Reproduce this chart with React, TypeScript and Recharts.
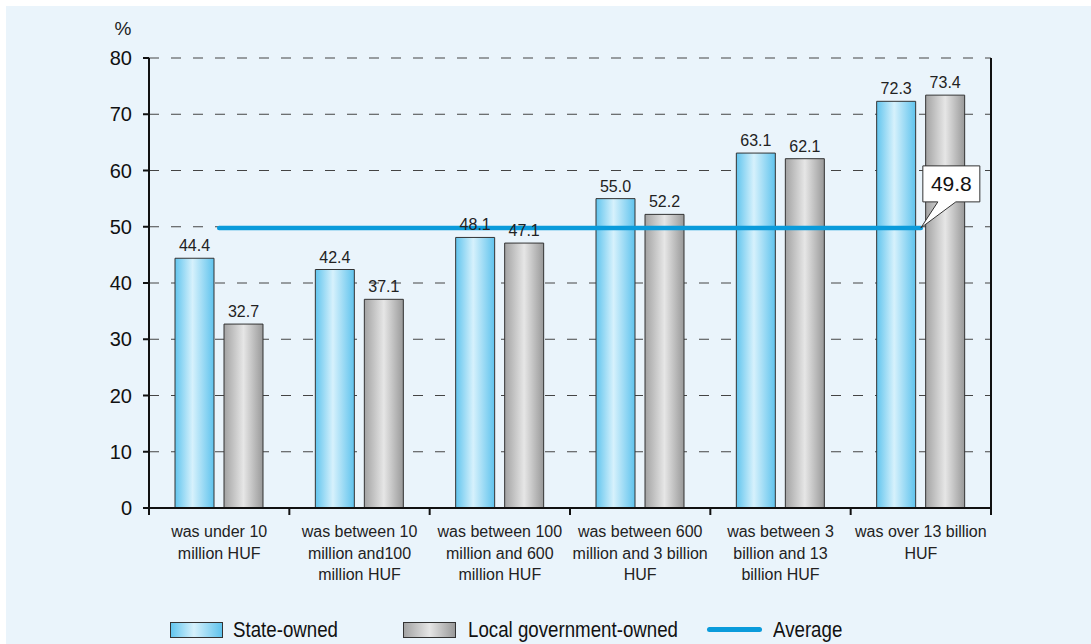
import React from "react";
import {
  BarChart,
  Bar,
  Line,
  XAxis,
  YAxis,
  CartesianGrid,
  LabelList,
} from "recharts";

// Share of companies by annual net revenue band, %
const categories = [
  "was under 10\nmillion HUF",
  "was between 10\nmillion and100\nmillion HUF",
  "was between 100\nmillion and 600\nmillion HUF",
  "was between 600\nmillion and 3 billion\nHUF",
  "was between 3\nbillion and 13\nbillion HUF",
  "was over 13 billion\nHUF",
];
const stateOwned = [44.4, 42.4, 48.1, 55.0, 63.1, 72.3];
const localGovOwned = [32.7, 37.1, 47.1, 52.2, 62.1, 73.4];
const average = 49.8;
const yTicks = [0, 10, 20, 30, 40, 50, 60, 70, 80];

const data = categories.map((name, i) => ({
  name,
  state: stateOwned[i],
  local: localGovOwned[i],
  avg: average,
}));

const CHART_W = 1085;
const CHART_H = 638;
const LEFT_W = 143;
const RIGHT_W = 100;
const BAND = (CHART_W - LEFT_W - RIGHT_W) / categories.length;

const FONT = "'Liberation Sans', Arial, Helvetica, sans-serif";
const AVG_COLOR = "#0a9bdb";
const BLUE_GRAD = "linear-gradient(to right, #62c5ee 0%, #d6f1fc 45%, #5fc3ed 100%)";
const GRAY_GRAD = "linear-gradient(to right, #a3a3a3 0%, #e6e6e6 50%, #999 100%)";

// category label under the axis, with boundary tick marks between bands
const CategoryTick = (props: any) => {
  const { x, y, payload, index } = props;
  const lines = String(payload.value).split("\n");
  const left = x - BAND / 2;
  const right = x + BAND / 2;
  return (
    <g>
      <line x1={left} x2={left} y1={y} y2={y + 7} stroke="#111" strokeWidth={2} />
      {index === categories.length - 1 && (
        <line x1={right} x2={right} y1={y} y2={y + 7} stroke="#111" strokeWidth={2} />
      )}
      <text textAnchor="middle" fontFamily={FONT} fontSize={16} fill="#222">
        {lines.map((l, i) => (
          <tspan key={i} x={x} y={y + 29 + i * 21.5}>
            {l}
          </tspan>
        ))}
      </text>
    </g>
  );
};

const UnitLabel = (props: any) => {
  const vb = props.viewBox || {};
  return (
    <text
      x={vb.x + vb.width - 26}
      y={vb.y - 23}
      textAnchor="middle"
      fontFamily={FONT}
      fontSize={19}
      fill="#222"
    >
      %
    </text>
  );
};

// callout box pointing at the end of the average line
const AverageCallout = (props: any) => {
  const { x, y, index } = props;
  if (index !== categories.length - 1) return null;
  const d = `M${x},${y} L${x + 17},${y - 26} L${x + 2},${y - 26} L${x + 2},${y - 62} L${x + 59},${y - 62} L${x + 59},${y - 26} L${x + 35},${y - 26} Z`;
  return (
    <g>
      <path d={d} fill="#fff" stroke="#333" strokeWidth={1} />
      <text
        x={x + 30.5}
        y={y - 36.5}
        textAnchor="middle"
        fontFamily={FONT}
        fontSize={21}
        fill="#111"
      >
        {average.toFixed(1)}
      </text>
    </g>
  );
};

const valueLabel = {
  position: "top" as const,
  offset: 7,
  fontFamily: FONT,
  fontSize: 16,
  fill: "#222",
  formatter: (v: any) => Number(v).toFixed(1),
};

// narrow legend type: regular sans squeezed horizontally
const legendText: React.CSSProperties = {
  position: "absolute",
  top: 611,
  fontFamily: FONT,
  fontSize: 22,
  lineHeight: "26px",
  color: "#111",
  whiteSpace: "nowrap",
  transform: "scaleX(0.85)",
  transformOrigin: "left center",
};

const legendBox: React.CSSProperties = {
  position: "absolute",
  top: 616,
  width: 51,
  height: 14,
  border: "1px solid #333",
};

export default function App() {
  return (
    <div
      style={{
        position: "absolute",
        left: 6,
        top: 6,
        width: CHART_W,
        height: CHART_H,
        background: "#eaf4fb",
      }}
    >
      <BarChart
        width={CHART_W}
        height={CHART_H}
        data={data}
        margin={{ top: 52, right: 0, bottom: 0, left: 0 }}
        barSize={39}
        barGap={10}
      >
        <defs>
          <linearGradient id="gradState" x1="0" y1="0" x2="1" y2="0">
            <stop offset="0%" stopColor="#62c5ee" />
            <stop offset="45%" stopColor="#d6f1fc" />
            <stop offset="100%" stopColor="#5fc3ed" />
          </linearGradient>
          <linearGradient id="gradLocal" x1="0" y1="0" x2="1" y2="0">
            <stop offset="0%" stopColor="#a3a3a3" />
            <stop offset="50%" stopColor="#e6e6e6" />
            <stop offset="100%" stopColor="#999999" />
          </linearGradient>
        </defs>
        <CartesianGrid vertical={false} stroke="#444" strokeDasharray="10 12" />
        <XAxis
          dataKey="name"
          height={136}
          tick={<CategoryTick />}
          tickLine={false}
          tickSize={0}
          tickMargin={0}
          interval={0}
          axisLine={{ stroke: "#111", strokeWidth: 2 }}
        />
        <YAxis
          width={LEFT_W}
          domain={[0, 80]}
          ticks={yTicks}
          interval={0}
          tickSize={6}
          tickMargin={11}
          tick={{ fontFamily: FONT, fontSize: 20, fill: "#111" }}
          tickLine={{ stroke: "#111", strokeWidth: 2 }}
          axisLine={{ stroke: "#111", strokeWidth: 2 }}
          label={<UnitLabel />}
        />
        <YAxis
          yAxisId="r"
          orientation="right"
          width={RIGHT_W}
          domain={[0, 80]}
          tick={false}
          tickLine={false}
          axisLine={{ stroke: "#111", strokeWidth: 2 }}
        />
        <Bar
          dataKey="state"
          name="State-owned"
          fill="url(#gradState)"
          stroke="#333"
          strokeWidth={1}
          isAnimationActive={false}
        >
          <LabelList dataKey="state" {...valueLabel} />
        </Bar>
        <Bar
          dataKey="local"
          name="Local government-owned"
          fill="url(#gradLocal)"
          stroke="#333"
          strokeWidth={1}
          isAnimationActive={false}
        >
          <LabelList dataKey="local" {...valueLabel} />
        </Bar>
        <Line
          dataKey="avg"
          name="Average"
          stroke={AVG_COLOR}
          strokeWidth={4.5}
          strokeLinecap="round"
          dot={false}
          activeDot={false}
          label={<AverageCallout />}
          isAnimationActive={false}
        />
      </BarChart>

      {/* legend */}
      <div style={{ ...legendBox, left: 164, background: BLUE_GRAD }} />
      <div style={{ ...legendText, left: 227 }}>State-owned</div>
      <div style={{ ...legendBox, left: 397, background: GRAY_GRAD }} />
      <div style={{ ...legendText, left: 462 }}>Local government-owned</div>
      <div
        style={{
          position: "absolute",
          left: 701,
          top: 621,
          width: 55,
          height: 5,
          borderRadius: 3,
          background: AVG_COLOR,
        }}
      />
      <div style={{ ...legendText, left: 767 }}>Average</div>
    </div>
  );
}
